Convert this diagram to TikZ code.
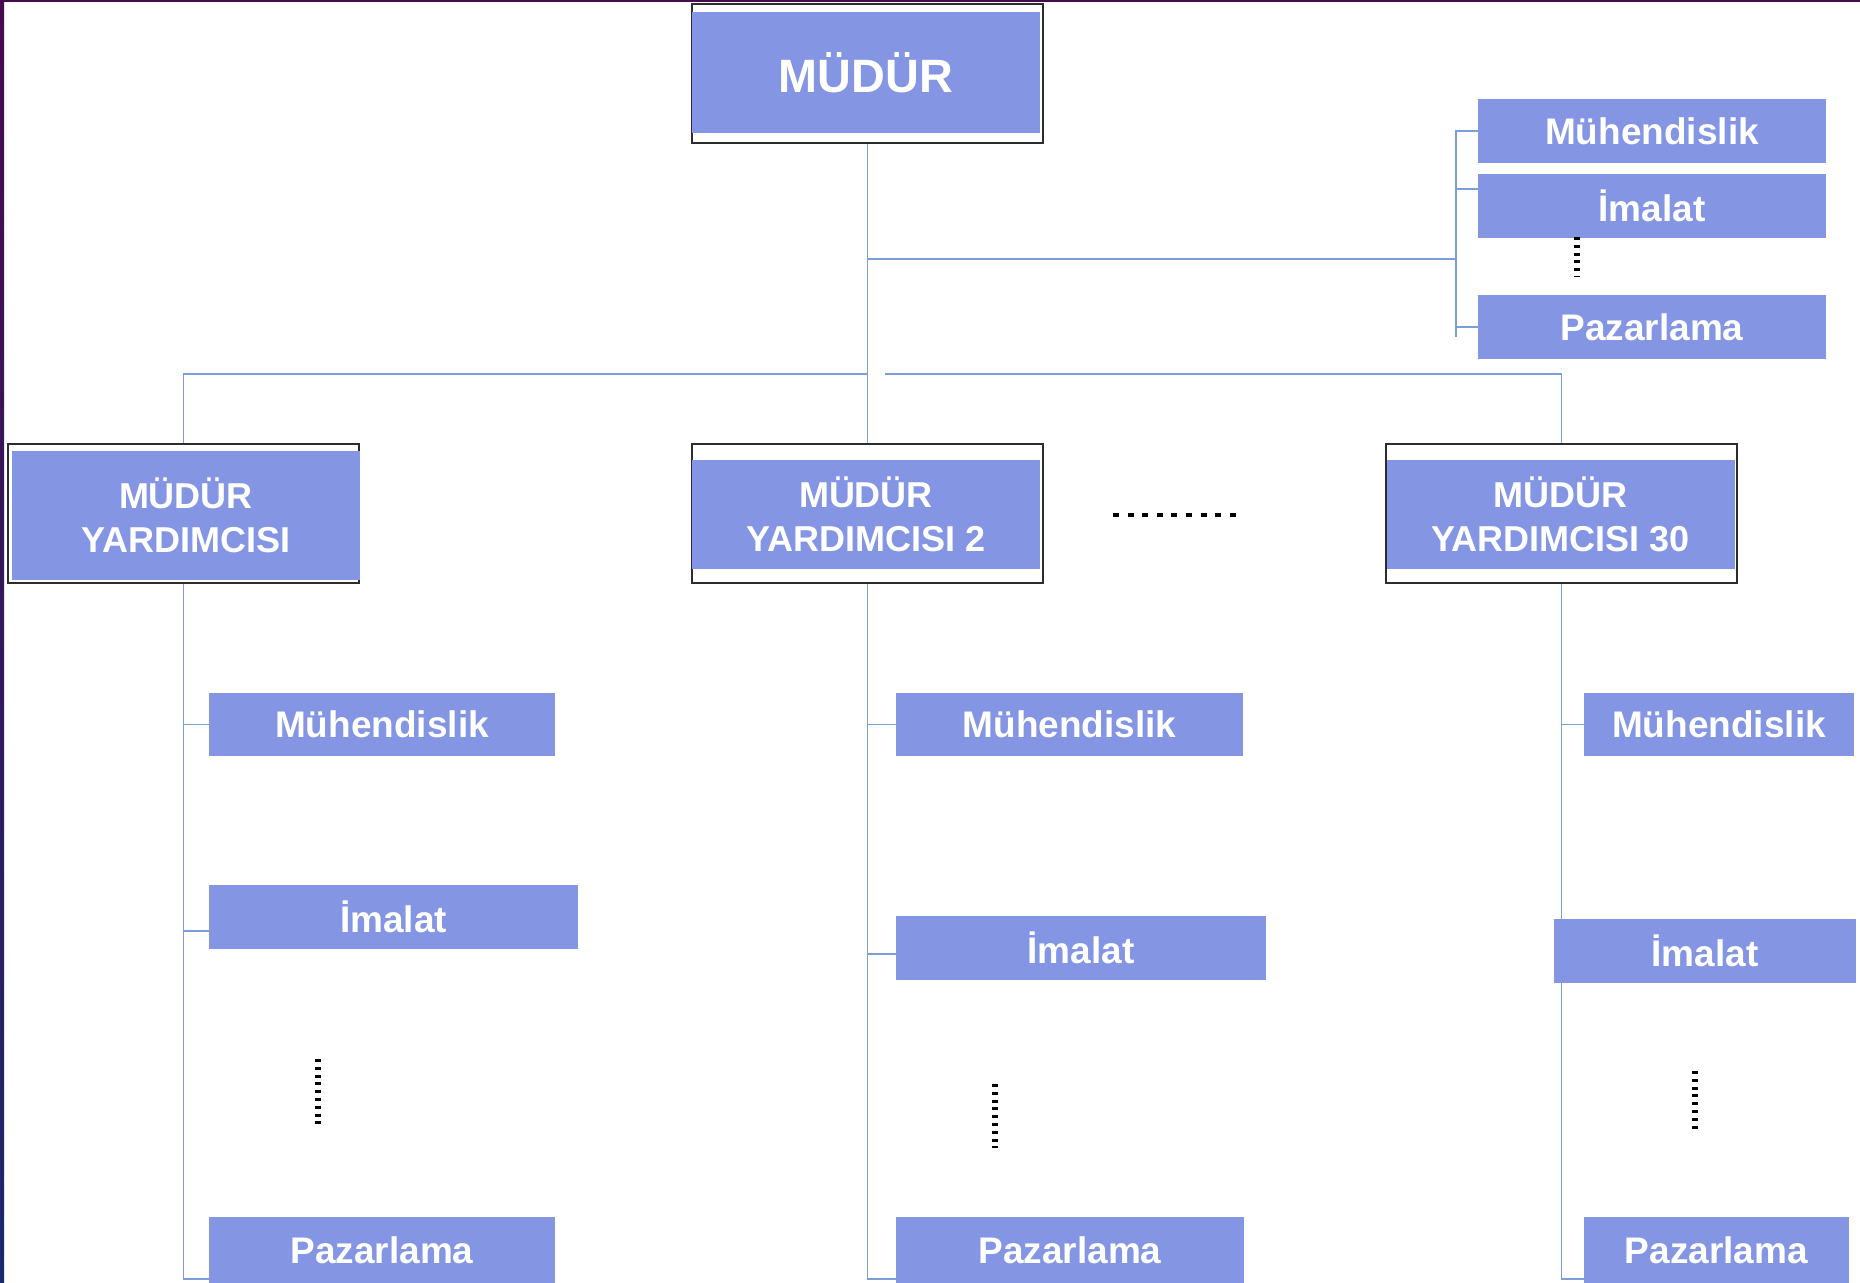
\documentclass[tikz,border=0pt]{standalone}
\usepackage{fontspec}
\setmainfont{Liberation Sans}
\usetikzlibrary{backgrounds}
\definecolor{boxblue}{RGB}{131,149,227}
\definecolor{lineblue}{RGB}{122,158,220}
\definecolor{edgegray}{RGB}{45,45,45}
\definecolor{slidepurple}{RGB}{72,10,78}
\definecolor{slidenavy}{RGB}{28,40,105}
\tikzset{
    unit/.style={
        fill=boxblue,
        text=white,
        inner sep=0pt,
        align=center,
        font=\bfseries\fontsize{18.5}{22}\selectfont
    },
    headbox/.style={
        unit,
        font=\bfseries\fontsize{18}{22}\selectfont,
        minimum width=174pt
    },
    outerbox/.style={
        draw=edgegray,
        fill=white,
        line width=0.6pt,
        inner sep=0pt,
        minimum width=175.5pt,
        minimum height=69.5pt
    },
    conn/.style={draw=lineblue, line width=0.75pt},
    vdots/.style={line width=3pt, dash pattern=on 1.5pt off 2.4pt},
    hdots/.style={line width=1.75pt, dash pattern=on 3pt off 4.3pt}
}

\begin{document}
\begin{tikzpicture}[x=0.5pt, y=-0.5pt]
    \useasboundingbox (0,0) rectangle (1860,1283);
    \fill[slidepurple] (0,0) rectangle (1860,2);
    \shade[top color=slidepurple, bottom color=slidenavy] (0,0) rectangle (4,1283);

    \node[outerbox] (mudf) at (867.5,73.5) {};
    \node[unit, minimum width=174pt, minimum height=60.5pt, font=\bfseries\fontsize{23.4}{28}\selectfont] (mud) at (866,72.5) {MÜDÜR};

    \node[unit, minimum width=174pt, minimum height=32pt] (rmuh) at (1652,131) {Mühendislik};
    \node[unit, minimum width=174pt, minimum height=32pt] (rima) at (1652,206) {İmalat};
    \node[unit, minimum width=174pt, minimum height=32pt] (rpaz) at (1652,327) {Pazarlama};

    \node[outerbox] (yrdf1) at (183.5,513.5) {};
    \node[headbox, minimum height=64.5pt] (yrd1) at (186,515.5) {MÜDÜR\\YARDIMCISI};
    \node[outerbox] (yrdf2) at (867.5,513.5) {};
    \node[headbox, minimum height=54.5pt] (yrd2) at (866,514.5) {MÜDÜR\\YARDIMCISI 2};
    \node[outerbox] (yrdf3) at (1561.5,513.5) {};
    \node[headbox, minimum height=54.5pt] (yrd3) at (1560.5,514.5) {MÜDÜR\\YARDIMCISI 30};

    \node[unit, minimum width=173pt, minimum height=31.5pt] (muh1) at (382,724.5) {Mühendislik};
    \node[unit, minimum width=184.5pt, minimum height=32pt] (ima1) at (393.5,917) {İmalat};
    \node[unit, minimum width=173pt, minimum height=33pt] (paz1) at (382,1250) {Pazarlama};

    \node[unit, minimum width=173.5pt, minimum height=31.5pt] (muh2) at (1069.5,724.5) {Mühendislik};
    \node[unit, minimum width=185pt, minimum height=32pt] (ima2) at (1081,948) {İmalat};
    \node[unit, minimum width=174pt, minimum height=33pt] (paz2) at (1070,1250) {Pazarlama};

    \node[unit, minimum width=135pt, minimum height=31.5pt] (muh3) at (1719,724.5) {Mühendislik};
    \node[unit, minimum width=151pt, minimum height=32pt] (ima3) at (1705,951) {İmalat};
    \node[unit, minimum width=132.5pt, minimum height=33pt] (paz3) at (1716.5,1250) {Pazarlama};

    \coordinate (hubl) at (868,374);
    \coordinate (hubr) at (885,374);
    \coordinate (rhub) at (868,259);
    \coordinate (rbot) at (1456,337);
    \coordinate (rimat) at ([yshift=8.5pt]rima.west);
    \coordinate (ima1t) at ([yshift=-7pt]ima1.west);
    \coordinate (ima2t) at ([yshift=-3pt]ima2.west);
    \coordinate (paz1t) at ([yshift=-14.5pt]paz1.west);
    \coordinate (paz2t) at ([yshift=-14.5pt]paz2.west);
    \coordinate (paz3t) at ([yshift=-14.5pt]paz3.west);

    \begin{scope}[on background layer]
        \draw[conn] (mudf.south) -- (yrdf2.north);
        \draw[conn] (hubl) -| (yrdf1.north);
        \draw[conn] (hubr) -| (yrdf3.north);
        \draw[conn] (rhub) -- (rhub -| rbot);
        \draw[conn] (rmuh.west) -| (rbot);
        \draw[conn] (rimat) -- (rimat -| rbot);
        \draw[conn] (rpaz.west) -- (rpaz.west -| rbot);

        \draw[conn] (yrdf1.south) |- (paz1t);
        \draw[conn] (muh1.west) -- (muh1.west -| yrdf1.south);
        \draw[conn] (ima1t) -- (ima1t -| yrdf1.south);

        \draw[conn] (yrdf2.south) |- (paz2t);
        \draw[conn] (muh2.west) -- (muh2.west -| yrdf2.south);
        \draw[conn] (ima2t) -- (ima2t -| yrdf2.south);

        \draw[conn] (yrdf3.south) |- (paz3t);
        \draw[conn] (muh3.west) -- (muh3.west -| yrdf3.south);
    \end{scope}

    \draw[vdots] (1577,237) -- (1577,277);
    \draw[hdots] (1113,515) -- (1236,515);
    \draw[vdots] (318,1059) -- (318,1125);
    \draw[vdots] (995,1084) -- (995,1148);
    \draw[vdots] (1695,1071) -- (1695,1133);
\end{tikzpicture}
\end{document}
